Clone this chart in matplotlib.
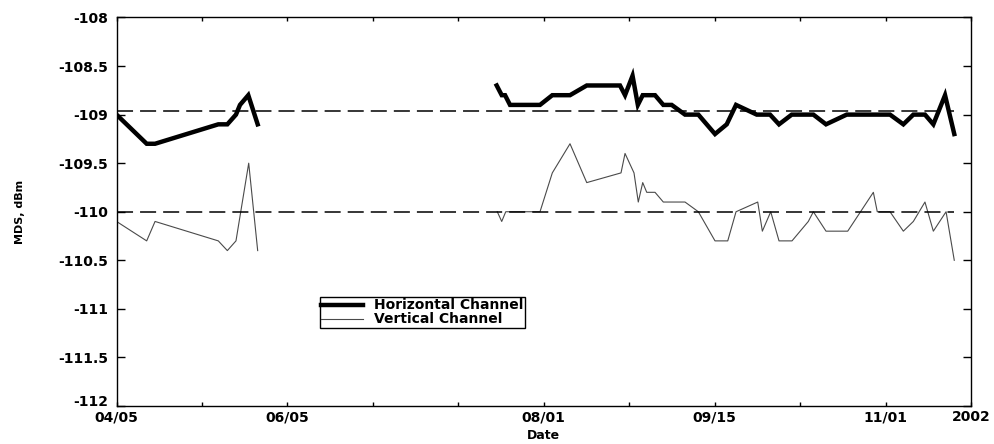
import numpy as np
import matplotlib
matplotlib.use("Agg")
import matplotlib.pyplot as plt
import matplotlib.transforms as mtransforms

plt.rcParams['font.family'] = ['DejaVu Sans']
plt.rcParams['font.weight'] = 'bold'
plt.rcParams['axes.unicode_minus'] = False

# position along the date axis, in tick intervals (0 = 04/05, 10 = 2002)
h_pos = [0.000, 0.353, 0.451, 1.191, 1.297, 1.398, 1.445, 1.542, 1.652, np.nan,
         4.449, 4.508, 4.547, 4.605, 4.956, 5.100, 5.307, 5.503, 5.892, 5.951,
         6.039, 6.101, 6.158, 6.302, 6.399, 6.497, 6.653, 6.809, 7.004, 7.141,
         7.250, 7.492, 7.648, 7.753, 7.902, 8.155, 8.303, 8.545, 9.052, 9.208,
         9.325, 9.461, 9.559, 9.696, 9.804]
h_mds = [-109.0, -109.3, -109.3, -109.1, -109.1, -109.0, -108.9, -108.8, -109.1, np.nan,
         -108.7, -108.8, -108.8, -108.9, -108.9, -108.8, -108.8, -108.7, -108.7, -108.8,
         -108.6, -108.9, -108.8, -108.8, -108.9, -108.9, -109.0, -109.0, -109.2, -109.1,
         -108.9, -109.0, -109.0, -109.1, -109.0, -109.0, -109.1, -109.0, -109.0, -109.1,
         -109.0, -109.0, -109.1, -108.8, -109.2]

v_pos = [0.000, 0.353, 0.451, 1.191, 1.297, 1.398, 1.547, 1.652, np.nan,
         4.456, 4.508, 4.555, 4.956, 5.100, 5.307, 5.503, 5.904, 5.951, 6.056,
         6.106, 6.158, 6.205, 6.302, 6.399, 6.653, 6.809, 7.004, 7.153, 7.250,
         7.504, 7.558, 7.656, 7.753, 7.905, 8.096, 8.155, 8.303, 8.557, 8.857,
         8.903, 9.052, 9.208, 9.325, 9.461, 9.559, 9.708, 9.804]
v_mds = [-110.1, -110.3, -110.1, -110.3, -110.4, -110.3, -109.5, -110.4, np.nan,
         -110.0, -110.1, -110.0, -110.0, -109.6, -109.3, -109.7, -109.6, -109.4, -109.6,
         -109.9, -109.7, -109.8, -109.8, -109.9, -109.9, -110.0, -110.3, -110.3, -110.0,
         -109.9, -110.2, -110.0, -110.3, -110.3, -110.1, -110.0, -110.2, -110.2, -109.8,
         -110.0, -110.0, -110.2, -110.1, -109.9, -110.2, -110.0, -110.5]

# reference levels for each channel
h_ref = -108.96
v_ref = -110.0

x_ticks = list(range(11))
x_labels = ['04/05', '', '06/05', '', '', '08/01', '', '09/15', '', '11/01', '2002']
y_ticks = [-112, -111.5, -111, -110.5, -110, -109.5, -109, -108.5, -108]
y_labels = ['-112', '-111.5', '-111', '-110.5', '-110', '-109.5', '-109', '-108.5', '-108']

fig = plt.figure(figsize=(9.95, 4.44), dpi=100)
ax = fig.add_axes([0.1171, 0.0856, 0.8588, 0.875])

ax.plot(h_pos, h_mds, color='black', lw=3.2, solid_joinstyle='miter',
        label='Horizontal Channel')
ax.plot(v_pos, v_mds, color='#4a4a4a', lw=0.8, label='Vertical Channel')

x_span = [h_pos[0], h_pos[-1]]
ax.plot(x_span, [h_ref, h_ref], color='black', lw=1.1, dashes=(10.5, 4.6))
ax.plot(x_span, [v_ref, v_ref], color='black', lw=1.1, dashes=(10.5, 4.6))

ax.set_xlim(0, 10)
ax.set_ylim(-112, -108)
ax.set_xticks(x_ticks)
ax.set_xticklabels(x_labels)
ax.set_yticks(y_ticks)
ax.set_yticklabels(y_labels)

ax.tick_params(direction='in', top=True, right=True, labelsize=10, width=1.0)
ax.tick_params(axis='y', length=6, pad=6)
ax.tick_params(axis='x', length=3, pad=3)
for s in ax.spines.values():
    s.set_linewidth(1.0)

# lift the bottom y label a little so it clears the first date
lbl = ax.get_yticklabels()[0]
lbl.set_transform(lbl.get_transform() +
                  mtransforms.ScaledTranslation(0, 4 / 72, fig.dpi_scale_trans))

ax.set_xlabel('Date', fontsize=9, fontweight='bold')
ax.set_ylabel('MDS, dBm', fontsize=8, fontweight='bold')
ax.xaxis.set_label_coords(0.5, -0.06)
ax.yaxis.set_label_coords(-0.107, 0.5)

leg = ax.legend(loc='upper left', bbox_to_anchor=(0.238, 0.2806), fontsize=10,
                handlelength=3.0, handletextpad=0.8, labelspacing=0.0,
                borderpad=0.1, borderaxespad=0, fancybox=False, framealpha=1)
leg.get_frame().set_edgecolor('black')
leg.get_frame().set_linewidth(1.0)

fig.savefig('out.png', dpi=100)
